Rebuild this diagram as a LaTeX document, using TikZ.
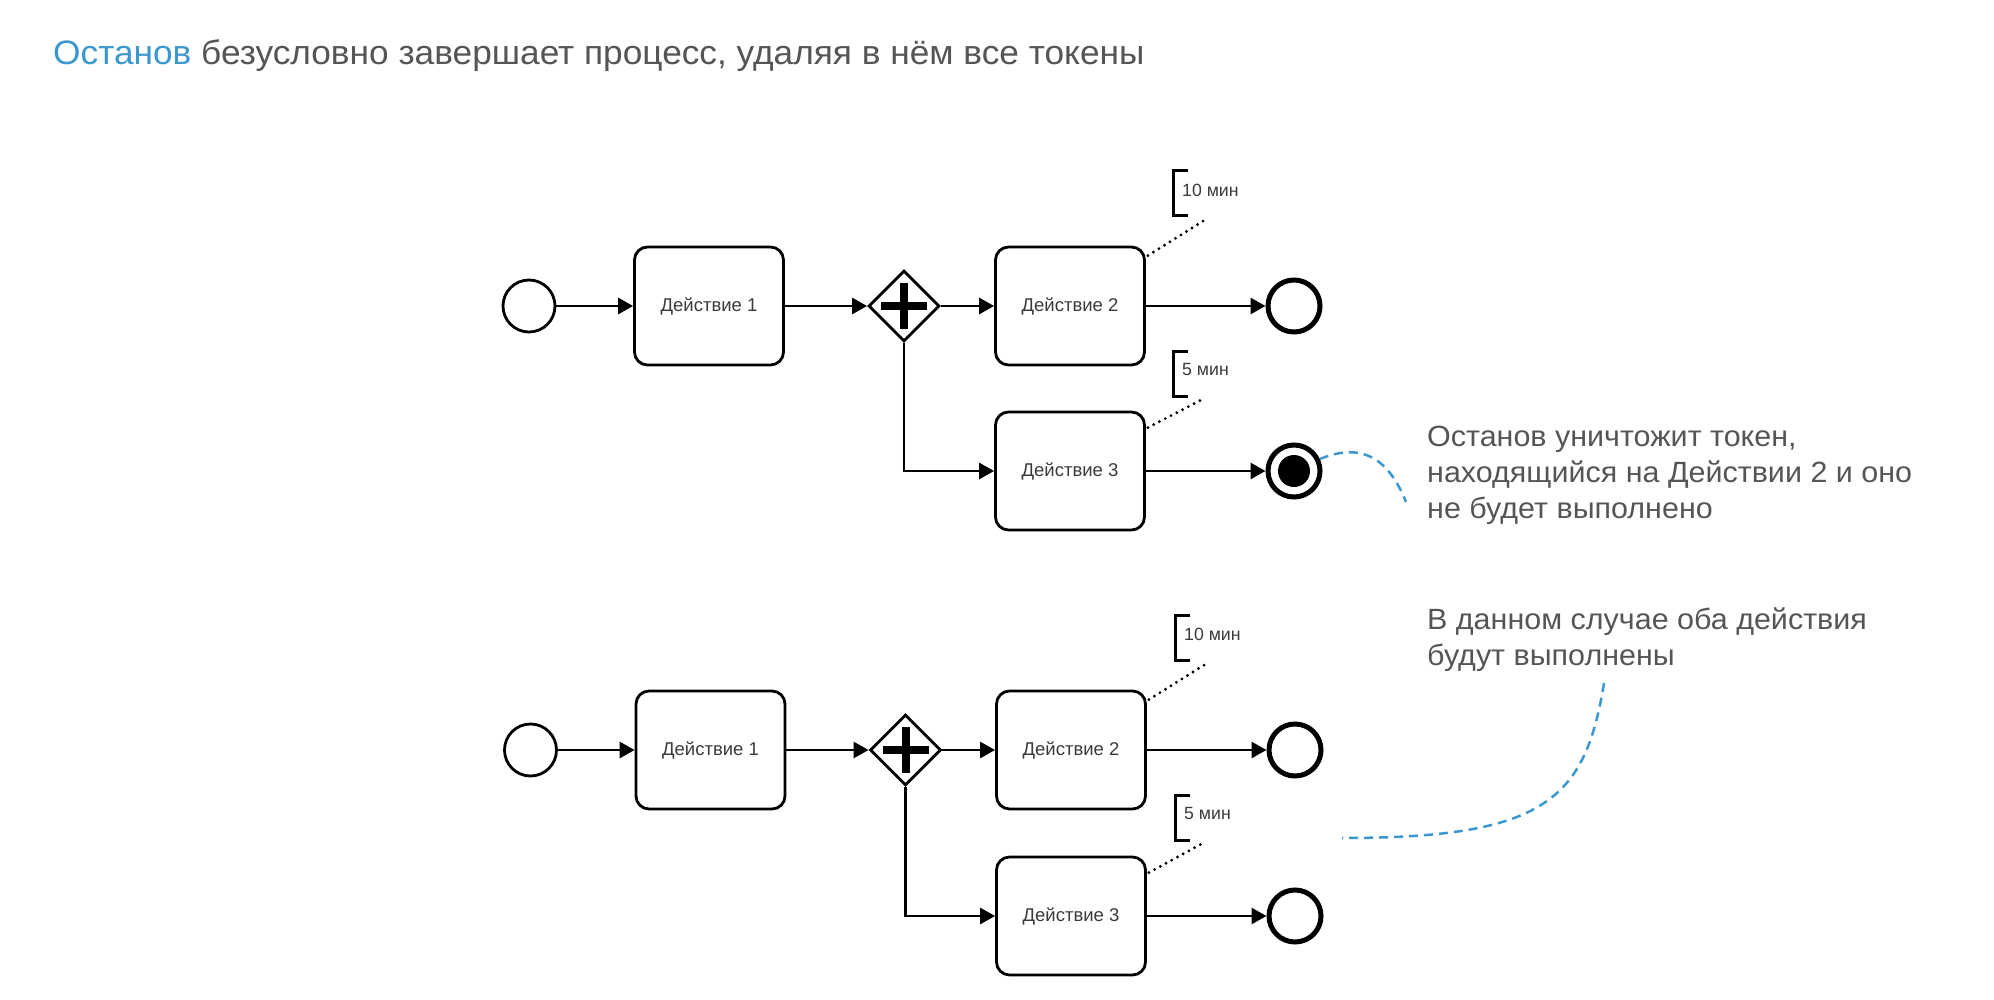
\documentclass[tikz,border=0pt]{standalone}
\usepackage{fontspec}
\setmainfont{Liberation Sans}
\newfontfamily\notefont[FakeStretch=1.04]{Liberation Sans}
\usetikzlibrary{arrows.meta,shapes.geometric,calc}
\definecolor{txtgray}{HTML}{555555}
\definecolor{lblgray}{HTML}{3A3A3A}
\definecolor{linkblue}{HTML}{3A98CE}
\begin{document}
\begin{tikzpicture}[x=1pt,y=-1pt,
  startev/.style={circle, draw, line width=2.8pt, minimum size=52pt, inner sep=0pt},
  endev/.style={circle, draw, line width=5pt, minimum size=52pt, inner sep=0pt},
  termev/.style={endev, path picture={\fill (path picture bounding box.center) circle (16pt);}},
  task/.style={rectangle, draw, line width=2.8pt, rounded corners=13pt, minimum width=149pt, minimum height=118pt, inner sep=0pt, font=\fontsize{18.5}{22}\selectfont, text=lblgray},
  gate/.style={diamond, draw, line width=2.8pt, minimum width=71pt, minimum height=71pt, inner sep=0pt,
    path picture={\draw[line width=8pt] ([xshift=-23pt]path picture bounding box.center) -- ([xshift=23pt]path picture bounding box.center);
                  \draw[line width=8pt] ([yshift=-23pt]path picture bounding box.center) -- ([yshift=23pt]path picture bounding box.center);}},
  flow/.style={line width=2.8pt, -{Triangle[length=15pt,width=16pt]}},
  assoc/.style={line width=3.2pt, dash pattern=on 0pt off 6.5pt, line cap=round},
  brack/.style={line width=3pt},
  anntext/.style={anchor=west, inner sep=0pt, font=\fontsize{17.7}{20}\selectfont, text=lblgray},
  note/.style={anchor=base west, inner sep=0pt, font=\notefont\fontsize{29.3}{36}\selectfont, text=txtgray},
  link/.style={line width=2.5pt, draw=linkblue, dash pattern=on 9pt off 6pt}
]
\useasboundingbox (0,0) rectangle (1994,1000);

% title
\node[anchor=base west, inner sep=0pt, font=\notefont\fontsize{33.9}{40}\selectfont, text=txtgray] (title) at (53,65)
  {\textcolor{linkblue}{Останов} безусловно завершает процесс, удаляя в нём все токены};

% ---------- top diagram ----------
\node[startev] (s1) at (529,306) {};
\node[task] (a1) at (709,306) {Действие 1};
\node[gate] (g1) at (904,306) {};
\node[task] (b1) at (1070,306) {Действие 2};
\node[task] (c1) at (1070,471) {Действие 3};
\node[endev] (e1) at (1294,306) {};
\node[termev] (t1) at (1294,471) {};

\draw[flow] (s1) -- (a1);
\draw[flow] (a1) -- (g1);
\draw[flow] (g1) -- (b1);
\draw[flow] (g1.south) |- (c1.west);
\draw[flow] (b1) -- (e1);
\draw[flow] (c1) -- (t1);

\node[anntext] (n1) at (1182,190) {10 мин};
\draw[brack] (1188,171) -- (1173,171) -- (1173,216) -- (1188,216);
\coordinate (n1a) at (1208,218);
\draw[assoc] ([shift={(2,10)}]b1.north east) -- (n1a);

\node[anntext] (n2) at (1182,369) {5 мин};
\draw[brack] (1188,351) -- (1173,351) -- (1173,396) -- (1188,396);
\coordinate (n2a) at (1205,398);
\draw[assoc] ([shift={(2,17)}]c1.north east) -- (n2a);

% ---------- bottom diagram ----------
\node[startev] (s2) at (530.5,750) {};
\node[task] (a2) at (710.5,750) {Действие 1};
\node[gate] (g2) at (905.5,750) {};
\node[task] (b2) at (1071,750) {Действие 2};
\node[task] (c2) at (1071,916) {Действие 3};
\node[endev] (e2) at (1295,750) {};
\node[endev] (f2) at (1295,916) {};

\draw[flow] (s2) -- (a2);
\draw[flow] (a2) -- (g2);
\draw[flow] (g2) -- (b2);
\draw[flow] (g2.south) |- (c2.west);
\draw[flow] (b2) -- (e2);
\draw[flow] (c2) -- (f2);

\node[anntext] (n3) at (1184,634) {10 мин};
\draw[brack] (1190,615) -- (1175,615) -- (1175,660) -- (1190,660);
\coordinate (n3a) at (1209,662);
\draw[assoc] ([shift={(2,10)}]b2.north east) -- (n3a);

\node[anntext] (n4) at (1184,813) {5 мин};
\draw[brack] (1190,795) -- (1175,795) -- (1175,840) -- (1190,840);
\coordinate (n4a) at (1205,842);
\draw[assoc] ([shift={(2,17)}]c2.north east) -- (n4a);

% ---------- notes ----------
\node[note] (m1) at (1427,446) {Останов уничтожит токен,};
\node[note] (m2) at (1427,482) {находящийся на Действии 2 и оно};
\node[note] (m3) at (1427,518) {не будет выполнено};
\coordinate (l1end) at (1406,502);
\draw[link] (t1.25) .. controls (1355,445) and (1385,450) .. (l1end);

\node[note] (k1) at (1427,629) {В данном случае оба действия};
\node[note] (k2) at (1427,665) {будут выполнены};
\coordinate (l2a) at (1604,683);
\coordinate (l2b) at (1342,838);
\draw[link] (l2a) .. controls (1585,800) and (1545,838) .. (l2b);
\end{tikzpicture}
\end{document}
